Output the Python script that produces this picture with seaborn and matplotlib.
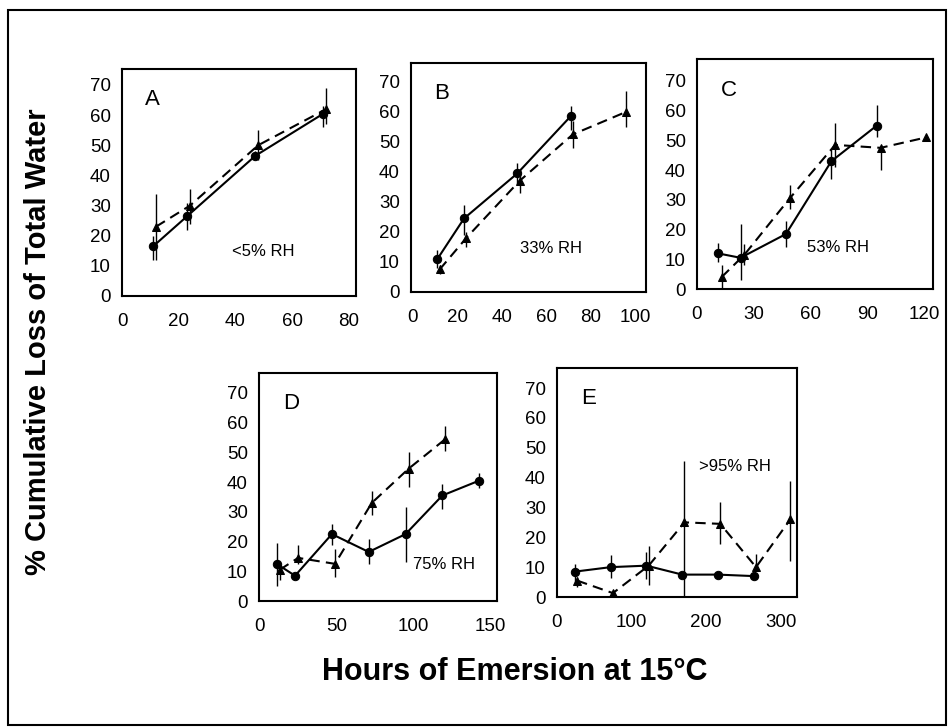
# Cumulative water loss vs hours of emersion, five RH panels

import numpy as np
import pandas as pd
import matplotlib
matplotlib.use('Agg')
import matplotlib.pyplot as plt
from matplotlib.patches import Rectangle
import seaborn as sns

sns.set_style('white')
plt.rcParams['font.family'] = ['Liberation Sans', 'DejaVu Sans']
plt.rcParams['text.color'] = 'black'
plt.rcParams['xtick.color'] = 'black'
plt.rcParams['ytick.color'] = 'black'
plt.rcParams['axes.labelcolor'] = 'black'

# --- Data ---
# Panel A, <5% RH
a_circ_x = [11, 23, 47, 71]
a_circ_y = [16.5, 26.5, 46.5, 60.5]
a_circ_lo = [12, 22, 45, 56]
a_circ_hi = [20, 31, 48, 63]
a_tri_x = [12, 24, 48, 72]
a_tri_y = [23, 30, 50, 62]
a_tri_lo = [12, 24, 45, 57]
a_tri_hi = [34, 35.5, 55, 69]

# Panel B, 33% RH
b_circ_x = [11, 23, 47, 71]
b_circ_y = [11, 24.5, 39.5, 58.5]
b_circ_lo = [8, 19, 36, 54]
b_circ_hi = [14, 29, 43, 62]
b_tri_x = [12, 24, 48, 72, 96]
b_tri_y = [7.5, 18, 37, 52.5, 60]
b_tri_lo = [6, 15, 33, 48, 55]
b_tri_hi = [9, 20, 41, 57, 67]

# Panel C, 53% RH
c_circ_x = [11, 23, 47, 71, 95]
c_circ_y = [12, 10.5, 18.5, 43, 55]
c_circ_lo = [9, 3, 14, 37, 51]
c_circ_hi = [15.5, 22, 23, 47, 62]
c_tri_x = [13, 25, 49, 73, 97, 121]
c_tri_y = [4, 11.5, 30.5, 48.5, 47.5, 51]
c_tri_lo = [0.5, 8, 27, 41, 40, 51]
c_tri_hi = [8, 15, 35, 56, 48, 51]

# Panel D, 75% RH
d_circ_x = [11, 23, 47, 71, 95, 119, 143]
d_circ_y = [12.5, 8.5, 22.5, 16.5, 22.5, 35.5, 40.5]
d_circ_lo = [5, 8.5, 19, 12.5, 13, 31, 38]
d_circ_hi = [19.5, 8.5, 26, 21, 31.5, 39.5, 43]
d_tri_x = [13, 25, 49, 73, 97, 121]
d_tri_y = [10.5, 14.5, 12.5, 33, 44.5, 54.5]
d_tri_lo = [7, 12.5, 8, 29, 38.5, 50.5]
d_tri_hi = [12, 19, 17.5, 37, 50, 59]

# Panel E, >95% RH
e_circ_x = [24, 72, 120, 168, 216, 264]
e_circ_y = [8.5, 10, 10.5, 7.5, 7.5, 7]
e_circ_lo = [4.5, 6.5, 6, 7.5, 7.5, 7]
e_circ_hi = [11, 14, 15, 7.5, 7.5, 7]
e_tri_x = [27, 75, 123, 171, 219, 267, 313]
e_tri_y = [5.5, 1.3, 10.5, 25, 24.5, 10, 26]
e_tri_lo = [3.3, 1.3, 4, 0, 17.7, 9.4, 12.2]
e_tri_hi = [6.6, 1.3, 17, 45.5, 31.8, 14.4, 39]

panels = [
    dict(letter='A', rh='<5% RH', circ=(a_circ_x, a_circ_y, a_circ_lo, a_circ_hi),
         tri=(a_tri_x, a_tri_y, a_tri_lo, a_tri_hi), xticks=[0, 20, 40, 60, 80],
         xlim=(0, 82.5), ylim=(0, 75.3), rect=[122, 69, 356, 296], rh_pos=(0.47, 0.194)),
    dict(letter='B', rh='33% RH', circ=(b_circ_x, b_circ_y, b_circ_lo, b_circ_hi),
         tri=(b_tri_x, b_tri_y, b_tri_lo, b_tri_hi), xticks=[0, 20, 40, 60, 80, 100],
         xlim=(-0.9, 105), ylim=(0, 76.3), rect=[411, 63, 646, 292], rh_pos=(0.464, 0.188)),
    dict(letter='C', rh='53% RH', circ=(c_circ_x, c_circ_y, c_circ_lo, c_circ_hi),
         tri=(c_tri_x, c_tri_y, c_tri_lo, c_tri_hi), xticks=[0, 30, 60, 90, 120],
         xlim=(0, 124.7), ylim=(0, 77.4), rect=[697, 59, 933, 289], rh_pos=(0.466, 0.18)),
    dict(letter='D', rh='75% RH', circ=(d_circ_x, d_circ_y, d_circ_lo, d_circ_hi),
         tri=(d_tri_x, d_tri_y, d_tri_lo, d_tri_hi), xticks=[0, 50, 100, 150],
         xlim=(-0.5, 154.6), ylim=(0, 76.7), rect=[259, 373, 497, 601], rh_pos=(0.647, 0.158)),
    dict(letter='E', rh='>95% RH', circ=(e_circ_x, e_circ_y, e_circ_lo, e_circ_hi),
         tri=(e_tri_x, e_tri_y, e_tri_lo, e_tri_hi), xticks=[0, 100, 200, 300],
         xlim=(0, 322), ylim=(0, 76.7), rect=[557, 368, 797, 597], rh_pos=(0.592, 0.572)),
]

W, H = 951, 727
fig = plt.figure(figsize=(W / 100, H / 100), dpi=100)

# outer frame
fig.patches.append(Rectangle((8 / W, 2 / H), 938 / W, 715 / H, transform=fig.transFigure,
                             fill=False, edgecolor='black', linewidth=1.5))

for p in panels:
    x0, y0, x1, y1 = p['rect']
    ax = fig.add_axes([x0 / W, (H - y1) / H, (x1 - x0) / W, (y1 - y0) / H])

    for key, marker, ls in [('circ', 'o', '-'), ('tri', '^', (0, (5, 3)))]:
        x, y, lo, hi = p[key]
        df = pd.DataFrame({'x': x, 'y': y})
        ax.vlines(x, lo, hi, color='black', linewidth=1)
        sns.lineplot(data=df, x='x', y='y', ax=ax, color='black', marker=marker,
                     markersize=6, markeredgecolor='black', linewidth=1.5,
                     linestyle=ls, sort=False, estimator=None)

    ax.set_xlim(*p['xlim'])
    ax.set_ylim(*p['ylim'])
    ax.set_xticks(p['xticks'])
    ax.set_yticks(range(0, 80, 10))
    ax.set_xlabel('')
    ax.set_ylabel('')
    ax.tick_params(direction='in', length=3, width=1, labelsize=13.5, colors='black')
    ax.tick_params(axis='x', pad=12)
    ax.tick_params(axis='y', pad=8)
    for s in ax.spines.values():
        s.set_linewidth(1.5)
        s.set_color('black')

    ax.text(0.1, 0.865, p['letter'], transform=ax.transAxes, fontsize=16,
            ha='left', va='center')
    ax.text(p['rh_pos'][0], p['rh_pos'][1], p['rh'], transform=ax.transAxes,
            fontsize=12, ha='left', va='center')

fig.text(38 / W, 1 - 342 / H, '% Cumulative Loss of Total Water', rotation=90,
         ha='center', va='center', fontsize=21, fontweight='bold')
fig.text(515 / W, 1 - 672 / H, 'Hours of Emersion at 15°C',
         ha='center', va='center', fontsize=22, fontweight='bold')

fig.savefig('out.png', dpi=100)
